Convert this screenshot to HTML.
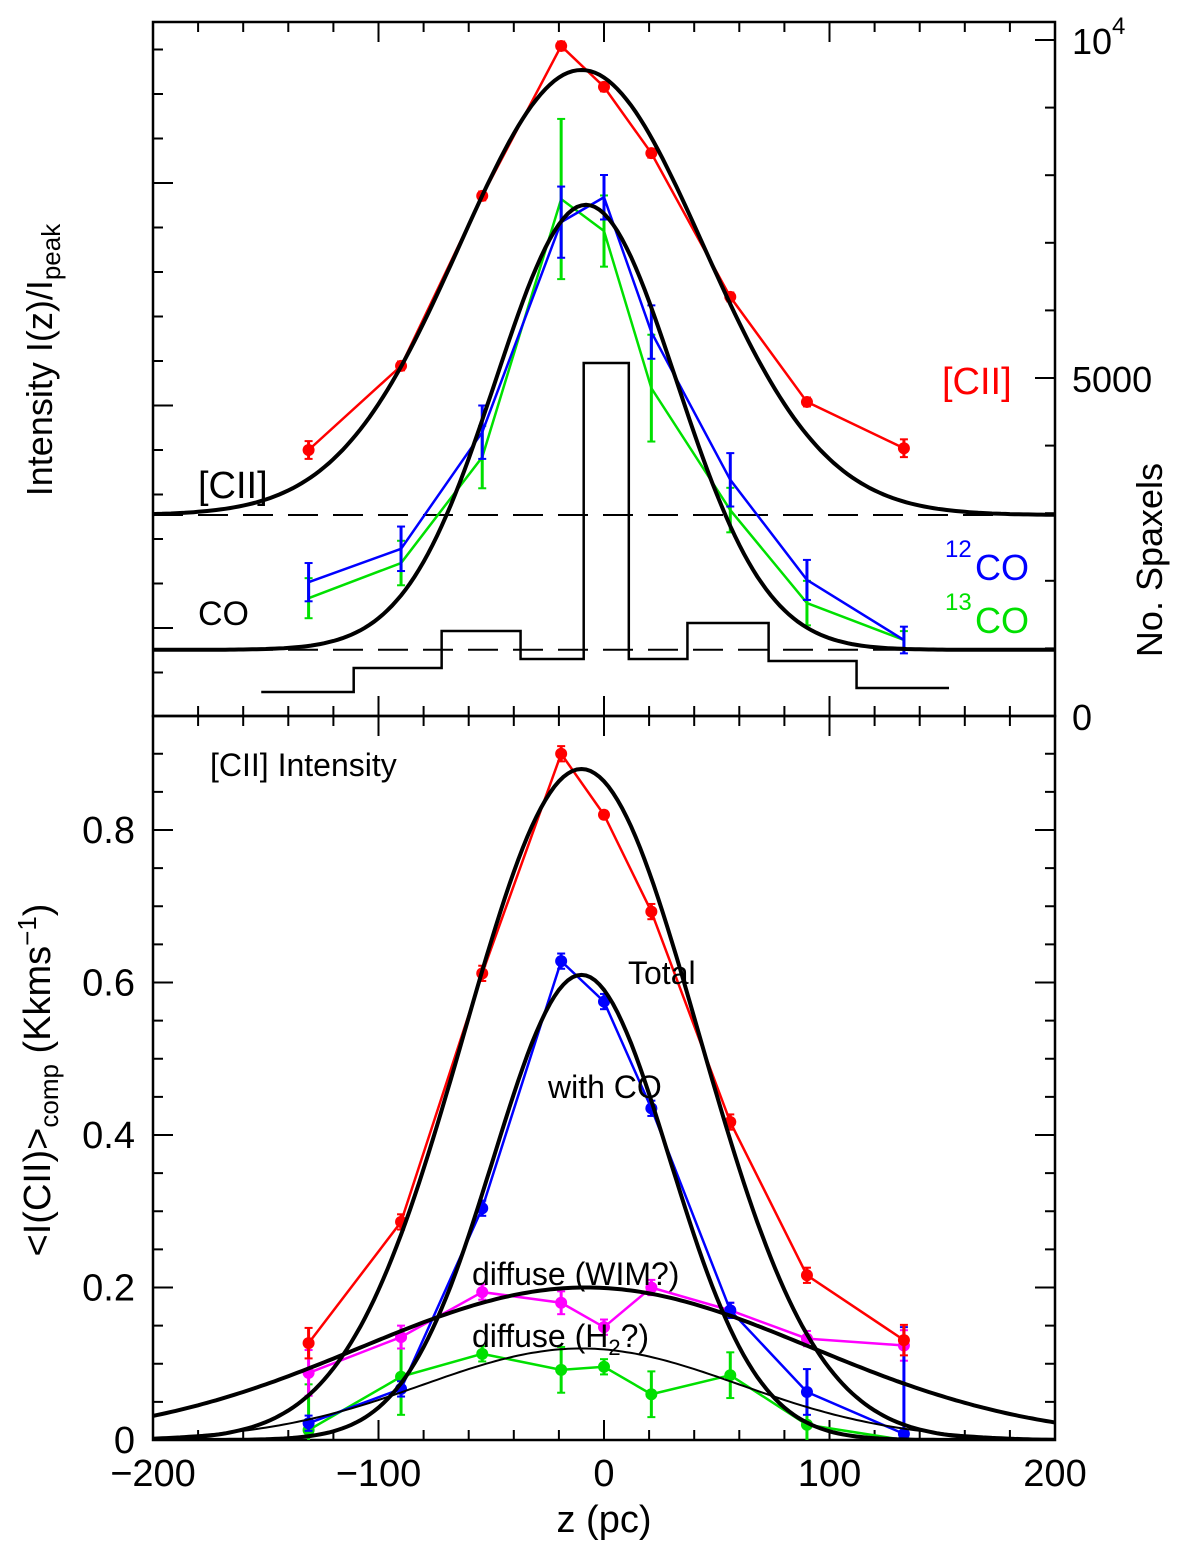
<!DOCTYPE html>
<html><head><meta charset="utf-8"><style>
html,body{margin:0;padding:0;background:#fff}
svg text{font-family:"Liberation Sans",sans-serif}
</style></head><body>
<svg id="c" width="1200" height="1541" viewBox="0 0 1200 1541" xmlns="http://www.w3.org/2000/svg">
<defs><clipPath id="botclip"><rect x="153" y="716" width="902" height="724"/></clipPath></defs>
</svg>
<script>
// ---- data ----
const zPts = [-131,-90,-54,-19,0,21,56,90,133];
// top panel (normalized intensity, arbitrary scale)
const topCII = [0.40,0.589,0.971,1.308,1.216,1.067,0.744,0.508,0.404];
const topCIIerr = [0.02,0.01,0.01,0.01,0.01,0.01,0.01,0.01,0.02];
const top12CO = [0.103,0.178,0.44,0.912,0.968,0.665,0.333,0.108,-0.027];
const top12COerr = [0.043,0.05,0.06,0.08,0.05,0.06,0.06,0.045,0.03];
const top13CO = [0.067,0.146,0.384,0.964,0.892,0.539,0.265,0.056,-0.027];
const top13COerr = [0.045,0.05,0.07,0.18,0.08,0.12,0.05,0.05,0.02];
// histogram
const histEdges = [-152,-111,-72,-37,-9,11,37,73,112,153];
const histCounts = [355,710,1257,843,5222,843,1376,814,414];
// bottom panel
const totVals = [0.127,0.286,0.612,0.9,0.82,0.693,0.417,0.216,0.131];
const totErr = [0.02,0.01,0.01,0.01,0.005,0.01,0.01,0.01,0.02];
const coVals = [0.022,0.067,0.304,0.628,0.575,0.435,0.17,0.063,0.008];
const coErr = [0.01,0.01,0.01,0.01,0.01,0.01,0.01,0.03,0.14];
const wimVals = [0.088,0.135,0.194,0.18,0.148,0.2,0.17,0.133,0.124];
const wimErr = [0.03,0.015,0.01,0.015,0.01,0.01,0.01,0.01,0.02];
const h2Vals = [0.013,0.083,0.113,0.092,0.096,0.06,0.085,0.02,0.0];
const h2Err = [0.06,0.05,0.01,0.03,0.01,0.03,0.03,0.04,0.01];
// gaussian fits [amp, center, sigma, offset]
const fitTopCII = [1.0,-10,54,0.254];
const fitTopCO = [1.0,-8,40,-0.049];
const fitTot = [0.88,-10,52,0];
const fitCO = [0.61,-10,39,0];
const fitWIM = [0.20,-8,100,0];
const fitH2 = [0.12,-10,70,0];
const xTicks = [-200,-100,0,100,200];
const yTicksBot = [0,0.2,0.4,0.6,0.8];

// ---- scales ----
const X0=153,X1=1055,TY0=22,TY1=716,BY1=1440;
const xs = z => X0 + (z+200)*(X1-X0)/400;
const ysTop = v => 628 - v*445;
const ysCnt = n => 716 - n*338/5000;
const ysBot = v => 1440 - v*762.5;

const svg=document.getElementById('c');
const NS='http://www.w3.org/2000/svg';
function el(tag,attrs,parent){const e=document.createElementNS(NS,tag);for(const k in attrs)e.setAttribute(k,attrs[k]);(parent||svg).appendChild(e);return e;}
function line(x1,y1,x2,y2,c,w,name,g){const l=el('line',{x1,y1,x2,y2,stroke:c,'stroke-width':w},g);


return l;}
function text(x,y,s,size,fill,name,anchor){const t=el('text',{x,y,'font-size':size,fill:fill||'#000','text-anchor':anchor||'start'});t.innerHTML=s;


return t;}

// frames
for(const [y0,y1,nm] of [[TY0,TY1,'top-panel-frame'],[TY1,BY1,'bottom-panel-frame']]){
  const r=el('rect',{x:X0,y:y0,width:X1-X0,height:y1-y0,fill:'none',stroke:'#000','stroke-width':2.5});
  
  
}
// x ticks
for(let z=-200;z<=200;z+=20){
  const major=z%100===0, L=major?20:10, x=xs(z);
  line(x,TY0,x,TY0+L,'#000',2,'x-tick');
  line(x,TY1,x,TY1-L,'#000',2,'x-tick');
  line(x,TY1,x,TY1+L,'#000',2,'x-tick');
  line(x,BY1,x,BY1-L,'#000',2,'x-tick');
}
xTicks.forEach(z=>text(xs(z),1486,(z<0?'\u2212'+(-z):String(z)),38,'#000','x-tick-label','middle'));
text(604,1532,'z  (pc)',38,'#000','x-axis-title','middle');
// top left ticks
for(let v=-0.1;v<=1.4;v+=0.1){const y=ysTop(v);if(y<TY0+5||y>TY1-5)continue;
  const major=Math.abs(Math.round(v*10)%5)===0;line(X0,y,X0+(major?20:10),y,'#000',2,'top-left-tick');}
// right count ticks
for(let n=0;n<=10000;n+=1000){const y=ysCnt(n);const major=n%5000===0;
  line(X1,y,X1-(major?20:10),y,'#000',2,'count-tick');}
text(1072,730,'0',36,'#000','count-tick-label');
text(1072,392,'5000',36,'#000','count-tick-label');
text(1072,54,'10',36,'#000','count-tick-label');
text(1112,34,'4',24,'#000','count-tick-label');
let t=text(1150,560,'No. Spaxels',36,'#000','right-axis-title','middle');t.setAttribute('transform','rotate(-90 1150 560) translate(0 12)');
t=text(52,360,'Intensity  I(z)/I<tspan font-size="26" dy="8">peak</tspan>',36,'#000','top-y-axis-title','middle');t.setAttribute('transform','rotate(-90 52 360)');
// bottom y ticks
for(let v=0;v<=0.91;v+=0.05){const y=ysBot(v);const major=Math.round(v*100)%20===0;
  line(X0,y,X0+(major?20:10),y,'#000',2,'y-tick');line(X1,y,X1-(major?20:10),y,'#000',2,'y-tick');}
yTicksBot.forEach(v=>text(135,ysBot(v)+13,v===0?'0':v.toFixed(1),38,'#000','y-tick-label','end'));
t=text(40,1080,'&lt;I(CII)&gt;<tspan font-size="26" dy="8">comp</tspan><tspan dy="-8">  (Kkms</tspan><tspan font-size="26" dy="-14">−1</tspan><tspan dy="14">)</tspan>',38,'#000','bottom-y-axis-title','middle');
t.setAttribute('transform','rotate(-90 40 1080) translate(0 10)');

// dashed baselines
let d=line(X0,ysTop(fitTopCII[3]),X1,ysTop(fitTopCII[3]),'#000',2,'cii-baseline');d.setAttribute('stroke-dasharray','30,15');
d=line(X0,ysTop(fitTopCO[3]),X1,ysTop(fitTopCO[3]),'#000',2,'co-baseline');d.setAttribute('stroke-dasharray','30,15');

// histogram
let hp='M'+xs(histEdges[0])+','+ysCnt(histCounts[0]);
for(let i=0;i<histCounts.length;i++){hp+=' L'+xs(histEdges[i])+','+ysCnt(histCounts[i])+' L'+xs(histEdges[i+1])+','+ysCnt(histCounts[i]);}
let h=el('path',{d:hp,fill:'none',stroke:'#000','stroke-width':2.5});



const botG=el('g',{'clip-path':'url(#botclip)'});



// curves
function gauss(p,ys,zmin,zmax,w,name,g){let s='';for(let z=zmin;z<=zmax;z+=2){const v=p[3]+p[0]*Math.exp(-Math.pow(z-p[1],2)/(2*p[2]*p[2]));s+=(s?' L':'M')+xs(z).toFixed(1)+','+ys(v).toFixed(1);}
  const e=el('path',{d:s,fill:'none',stroke:'#000','stroke-width':w},g);
  
  }
function series(vals,errs,ys,col,name,dot,g){let s='';vals.forEach((v,i)=>{s+=(i?' L':'M')+xs(zPts[i])+','+ys(v);});
  const e=el('path',{d:s,fill:'none',stroke:col,'stroke-width':2.5},g);
  
  
  vals.forEach((v,i)=>{const x=xs(zPts[i]);line(x,ys(v-errs[i]),x,ys(v+errs[i]),col,3,name+'-errorbar',g);
    line(x-4,ys(v-errs[i]),x+4,ys(v-errs[i]),col,2,name+'-errorcap',g);line(x-4,ys(v+errs[i]),x+4,ys(v+errs[i]),col,2,name+'-errorcap',g);
    if(dot){const c=el('circle',{cx:x,cy:ys(v),r:6,fill:col},g);
    
    }});}

series(top13CO,top13COerr,ysTop,'#00e000','top-13co',false);
series(top12CO,top12COerr,ysTop,'#0000ff','top-12co',false);
series(topCII,topCIIerr,ysTop,'#ff0000','top-cii',true);
gauss(fitTopCII,ysTop,-200,200,4,'top-cii-fit');
gauss(fitTopCO,ysTop,-200,200,4,'top-co-fit');

series(h2Vals,h2Err,ysBot,'#00e000','diffuse-h2',true,botG);
series(wimVals,wimErr,ysBot,'#ff00ff','diffuse-wim',true,botG);
series(coVals,coErr,ysBot,'#0000ff','with-co',true,botG);
series(totVals,totErr,ysBot,'#ff0000','total',true,botG);
gauss(fitTot,ysBot,-200,200,4,'total-fit',botG);
gauss(fitCO,ysBot,-200,200,4,'with-co-fit',botG);
gauss(fitWIM,ysBot,-200,200,4,'wim-fit',botG);
gauss(fitH2,ysBot,-200,200,2,'h2-fit',botG);

// labels
text(198,498,'[CII]',38,'#000','cii-label-black');
text(198,625,'CO',34,'#000','co-label');
text(942,394,'[CII]',38,'#ff0000','cii-label-red');
text(945,557,'12',24,'#0000ff','12co-sup');text(975,580,'CO',36,'#0000ff','12co-label');
text(945,610,'13',24,'#00e000','13co-sup');text(975,633,'CO',36,'#00e000','13co-label');
text(210,776,'[CII]  Intensity',32,'#000','panel-title');
text(628,984,'Total',32,'#000','total-label');
text(548,1098,'with  CO',32,'#000','with-co-label');
text(472,1285,'diffuse  (WIM?)',32,'#000','wim-label');
text(472,1347,'diffuse  (H<tspan font-size="22" dy="8">2</tspan><tspan dy="-8">?)</tspan>',32,'#000','h2-label');
</script>
</body></html>
